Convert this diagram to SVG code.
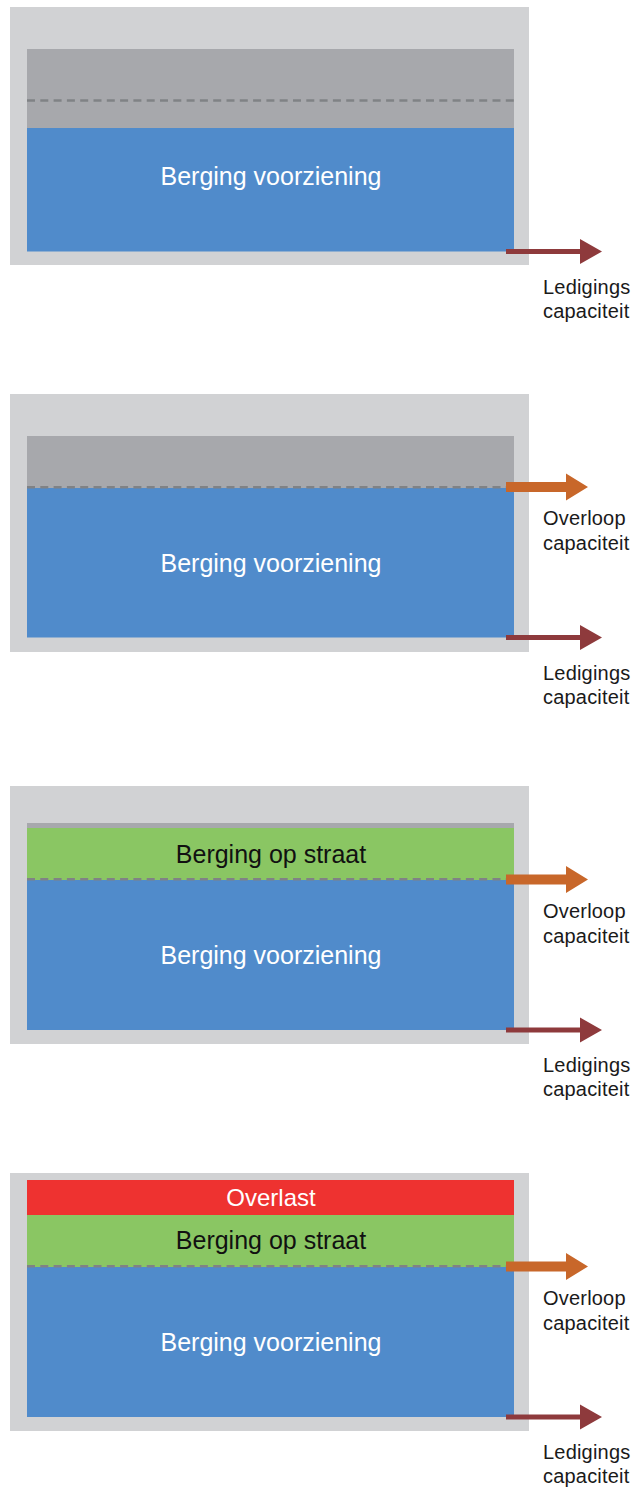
<svg xmlns="http://www.w3.org/2000/svg" width="632" height="1488" viewBox="0 0 632 1488">
<style>
.outer{fill:#D1D2D4}
.empty{fill:#A7A8AC}
.blue{fill:#508BCB}
.green{fill:#8AC663}
.red{fill:#EE3230}
.dash{stroke:#808285;stroke-width:2.5;stroke-dasharray:8 5.3;fill:none}
.main{font-family:"Liberation Sans",Arial,sans-serif;font-size:25px;text-anchor:middle}
.white{fill:#FFFFFF}
.black{fill:#111111}
.lbl{font-family:"Liberation Sans",Arial,sans-serif;font-size:20px;letter-spacing:0.2px;fill:#1A1A1A}
.led{fill:#8E3A3C}
.ovl{fill:#C8672A}
</style>
<defs>
<path id="arrLed" d="M0,-2.5 H74 V-12.5 L96,0 L74,12.5 V2.5 H0 Z"/>
<path id="arrOvl" d="M0,-5 H60 V-13.5 L82,0 L60,13.5 V5 H0 Z"/>
</defs>

<g id="panel1">
<rect class="outer" x="10" y="7" width="519" height="258"/>
<rect class="empty" x="27" y="49" width="487" height="79"/>
<line class="dash" x1="27" y1="100.5" x2="514" y2="100.5"/>
<rect class="blue" x="27" y="128" width="487" height="123.5"/>
<text class="main white" x="271" y="184.5">Berging voorziening</text>
</g>

<g id="panel2">
<rect class="outer" x="10" y="394" width="519" height="258"/>
<rect class="empty" x="27" y="436" width="487" height="52"/>
<rect class="blue" x="27" y="488" width="487" height="149.5"/>
<line class="dash" x1="27" y1="487.3" x2="514" y2="487.3"/>
<text class="main white" x="271" y="571.5">Berging voorziening</text>
</g>

<g id="panel3">
<rect class="outer" x="10" y="786" width="519" height="258"/>
<rect class="empty" x="27" y="823" width="487" height="6"/>
<rect class="green" x="27" y="828" width="487" height="52"/>
<rect class="blue" x="27" y="880" width="487" height="150"/>
<line class="dash" x1="27" y1="879.3" x2="514" y2="879.3"/>
<text class="main black" x="271" y="863">Berging op straat</text>
<text class="main white" x="271" y="963.5">Berging voorziening</text>
</g>

<g id="panel4">
<rect class="outer" x="10" y="1173" width="519" height="258"/>
<rect class="red" x="27" y="1180" width="487" height="35"/>
<rect class="green" x="27" y="1215" width="487" height="52"/>
<rect class="blue" x="27" y="1267" width="487" height="150"/>
<line class="dash" x1="27" y1="1266.3" x2="514" y2="1266.3"/>
<text class="main white" x="271" y="1206" style="font-size:24px">Overlast</text>
<text class="main black" x="271" y="1249">Berging op straat</text>
<text class="main white" x="271" y="1350.5">Berging voorziening</text>
</g>

<g id="connectors">
<use href="#arrLed" class="led" x="506" y="251.5"/>
<use href="#arrOvl" class="ovl" x="506" y="487"/>
<use href="#arrLed" class="led" x="506" y="637.5"/>
<use href="#arrOvl" class="ovl" x="506" y="879.5"/>
<use href="#arrLed" class="led" x="506" y="1030"/>
<use href="#arrOvl" class="ovl" x="506" y="1266.5"/>
<use href="#arrLed" class="led" x="506" y="1417"/>
</g>

<g id="labels">
<text class="lbl" x="543" y="293.5">Ledigings</text>
<text class="lbl" x="543" y="317.5">capaciteit</text>
<text class="lbl" x="543" y="525">Overloop</text>
<text class="lbl" x="543" y="550">capaciteit</text>
<text class="lbl" x="543" y="679.5">Ledigings</text>
<text class="lbl" x="543" y="703.5">capaciteit</text>
<text class="lbl" x="543" y="917.5">Overloop</text>
<text class="lbl" x="543" y="942.5">capaciteit</text>
<text class="lbl" x="543" y="1072">Ledigings</text>
<text class="lbl" x="543" y="1096">capaciteit</text>
<text class="lbl" x="543" y="1304.5">Overloop</text>
<text class="lbl" x="543" y="1329.5">capaciteit</text>
<text class="lbl" x="543" y="1459">Ledigings</text>
<text class="lbl" x="543" y="1483">capaciteit</text>
</g>
</svg>
